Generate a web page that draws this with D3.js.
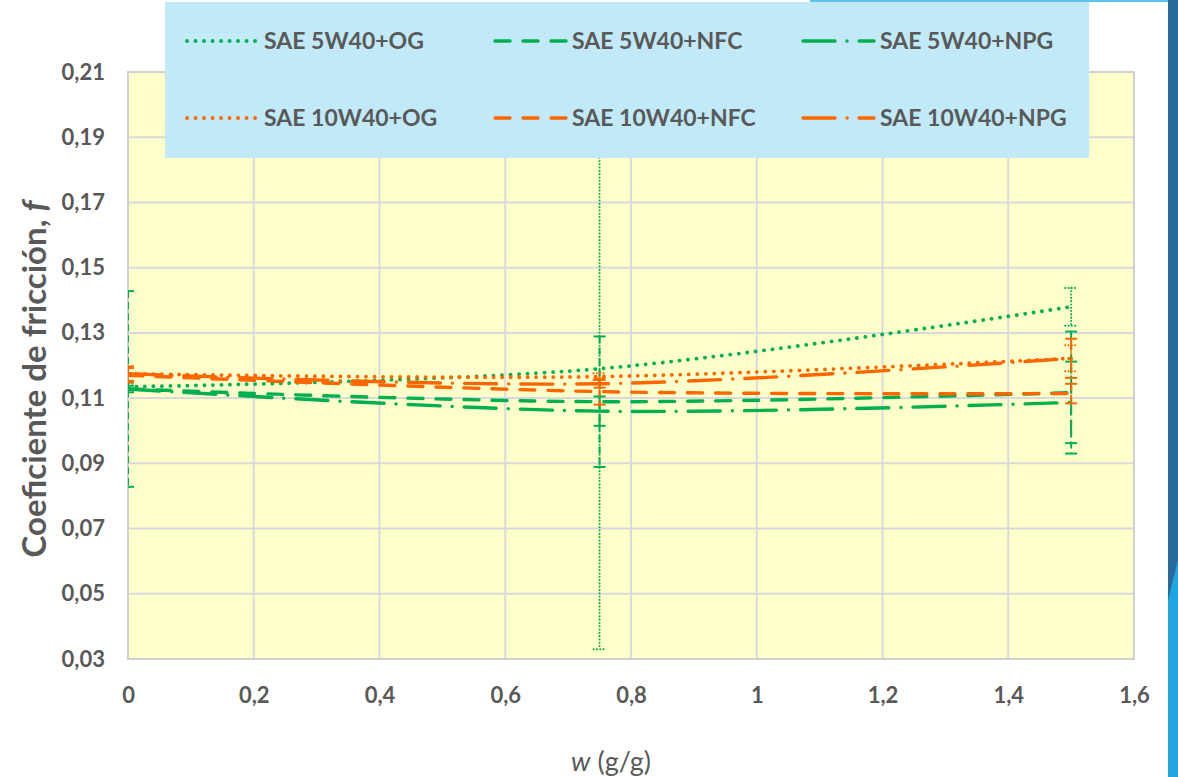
<!DOCTYPE html>
<html>
<head>
<meta charset="utf-8">
<script src="https://cdn.jsdelivr.net/npm/d3@7"></script>
<style>
  html, body { margin: 0; padding: 0; background: #ffffff; }
  svg { display: block; }
  text { font-family: Lato, "Open Sans", sans-serif; }
</style>
</head>
<body>
<svg id="chart" width="1178" height="777"></svg>
<script>
// Mass fraction of additive, w (g/g)
const wValues = [0, 0.75, 1.5];

// Friction coefficient per lubricant blend
const sae5OG   = [0.1135, 0.1190, 0.1380];
const sae5NFC  = [0.1128, 0.1089, 0.1117];
const sae5NPG  = [0.1128, 0.1060, 0.1087];
const sae10OG  = [0.1175, 0.1166, 0.1222];
const sae10NFC = [0.1170, 0.1120, 0.1114];
const sae10NPG = [0.1175, 0.1144, 0.1222];

// Error bar half-widths (±)
const sae5OGErr   = [0.0010, 0.0860, 0.0058];
const sae5NFCErr  = [0.0300, 0.0200, 0.0187];
const sae5NPGErr  = [0.0010, 0.0045, 0.0125];
const sae10OGErr  = [0.0022, 0.0010, 0.0040];
const sae10NFCErr = [0.0022, 0.0040, 0.0030];
const sae10NPGErr = [0.0022, 0.0012, 0.0060];

const seriesNames = ["SAE 5W40+OG", "SAE 5W40+NFC", "SAE 5W40+NPG",
                     "SAE 10W40+OG", "SAE 10W40+NFC", "SAE 10W40+NPG"];

const yTicks = [0.03, 0.05, 0.07, 0.09, 0.11, 0.13, 0.15, 0.17, 0.19, 0.21];
const xTicks = [0, 0.2, 0.4, 0.6, 0.8, 1, 1.2, 1.4, 1.6];

const GREEN = "#00b050", ORANGE = "#ff6600";
const dotted = "0.1 8.4", dashed = "15 13", dashDot = "32 12 0.1 12";
const errDotted = "0.1 3.2", errDashed = "7 4", errDashDot = "12 4 0.1 4";

const series = [
  { name: seriesNames[0], values: sae5OG,   err: sae5OGErr,   color: GREEN,  dash: dotted,  edash: errDotted },
  { name: seriesNames[1], values: sae5NFC,  err: sae5NFCErr,  color: GREEN,  dash: dashed,  edash: errDashed },
  { name: seriesNames[2], values: sae5NPG,  err: sae5NPGErr,  color: GREEN,  dash: dashDot, edash: errDashDot },
  { name: seriesNames[3], values: sae10OG,  err: sae10OGErr,  color: ORANGE, dash: dotted,  edash: errDotted },
  { name: seriesNames[4], values: sae10NFC, err: sae10NFCErr, color: ORANGE, dash: dashed,  edash: errDashed },
  { name: seriesNames[5], values: sae10NPG, err: sae10NPGErr, color: ORANGE, dash: dashDot, edash: errDashDot }
];
const strokeFor = s => s.dash === dotted ? 3.8 : 3.4;

const svg = d3.select("#chart");
const plot = { left: 128, right: 1134, top: 72, bottom: 659 };

const x = d3.scaleLinear().domain([0, 1.6]).range([plot.left, plot.right]);
const y = d3.scaleLinear().domain([0.03, 0.21]).range([plot.bottom, plot.top]);
const fmt = d => d3.format(",")(d).replace(".", ",");

// Decorative side band
svg.append("rect").attr("x", 1168).attr("y", 0).attr("width", 10).attr("height", 777).attr("fill", "#276a9b");
svg.append("path").attr("d", "M1168,600 L1178,560 L1178,777 L1168,777 Z").attr("fill", "#1fa6df");
svg.append("rect").attr("x", 810).attr("y", 0).attr("width", 358).attr("height", 2).attr("fill", "#5cc3ec");

// Plot background
svg.append("rect")
  .attr("x", plot.left).attr("y", plot.top)
  .attr("width", plot.right - plot.left).attr("height", plot.bottom - plot.top)
  .attr("fill", "#ffffcc");

// Gridlines
svg.append("g").selectAll("line").data(yTicks).join("line")
  .attr("x1", plot.left).attr("x2", plot.right)
  .attr("y1", d => y(d)).attr("y2", d => y(d))
  .attr("stroke", "#d9d9d9").attr("stroke-width", 2);
svg.append("g").selectAll("line").data(xTicks).join("line")
  .attr("x1", d => x(d)).attr("x2", d => x(d))
  .attr("y1", plot.top).attr("y2", plot.bottom)
  .attr("stroke", "#d9d9d9").attr("stroke-width", 2);

// Plot border
svg.append("rect")
  .attr("x", plot.left).attr("y", plot.top)
  .attr("width", plot.right - plot.left).attr("height", plot.bottom - plot.top)
  .attr("fill", "none").attr("stroke", "#d0d0d0").attr("stroke-width", 2);

// Axes (labels only; the frame is drawn above)
const yAxis = svg.append("g").attr("transform", `translate(${plot.left},0)`)
  .call(d3.axisLeft(y).tickValues(yTicks).tickFormat(d => d3.format(".2f")(d).replace(".", ",")).tickSize(0).tickPadding(23));
const xAxis = svg.append("g").attr("transform", `translate(0,${plot.bottom})`)
  .call(d3.axisBottom(x).tickValues(xTicks).tickFormat(fmt).tickSize(0).tickPadding(28));
[yAxis, xAxis].forEach(a => {
  a.select(".domain").remove();
  a.selectAll("text").attr("fill", "#595959").attr("font-size", 22).attr("font-weight", 700)
    .style("font-family", "Lato, sans-serif");
});

// Clip for marks
svg.append("clipPath").attr("id", "plotClip").append("rect")
  .attr("x", plot.left).attr("y", plot.top)
  .attr("width", plot.right - plot.left).attr("height", plot.bottom - plot.top);
const marks = svg.append("g").attr("clip-path", "url(#plotClip)");

// Smoothed series lines
const line = d3.line().x((d, i) => x(wValues[i])).y(d => y(d)).curve(d3.curveCatmullRom.alpha(0));
series.forEach(s => {
  marks.append("path")
    .attr("d", line(s.values))
    .attr("fill", "none").attr("stroke", s.color).attr("stroke-width", strokeFor(s))
    .attr("stroke-dasharray", s.dash).attr("stroke-linecap", "round");
});

// Error bars
series.forEach(s => {
  const g = marks.append("g").attr("stroke", s.color).attr("stroke-width", 2).attr("fill", "none");
  s.values.forEach((v, i) => {
    const cx = x(wValues[i]);
    const lo = y(v - s.err[i]), hi = y(v + s.err[i]);
    g.append("line").attr("x1", cx).attr("x2", cx).attr("y1", hi).attr("y2", lo)
      .attr("stroke-dasharray", s.edash).attr("stroke-linecap", s.edash === errDotted ? "round" : "butt");
    [hi, lo].forEach(yy => {
      g.append("line").attr("x1", cx - 6).attr("x2", cx + 6).attr("y1", yy).attr("y2", yy)
        .attr("stroke-dasharray", s.edash === errDotted ? errDotted : null)
        .attr("stroke-linecap", s.edash === errDotted ? "round" : "butt");
    });
  });
});

// Legend
const legend = svg.append("g");
legend.append("rect").attr("x", 165).attr("y", 2).attr("width", 924).attr("height", 156).attr("fill", "#c1e9f8");
const colX = [187, 495, 803], rowY = [41, 118];
series.forEach((s, i) => {
  const cx = colX[i % 3], cy = rowY[Math.floor(i / 3)];
  legend.append("line").attr("x1", cx).attr("x2", cx + 71).attr("y1", cy).attr("y2", cy)
    .attr("stroke", s.color).attr("stroke-width", strokeFor(s))
    .attr("stroke-dasharray", s.dash).attr("stroke-linecap", "round");
  legend.append("text").attr("x", cx + 77).attr("y", cy).attr("dy", "0.36em")
    .attr("fill", "#595959").attr("font-size", 23).attr("font-weight", 700)
    .text(s.name);
});

// Axis titles
svg.append("text")
  .attr("transform", `translate(46,379) rotate(-90)`)
  .attr("text-anchor", "middle").attr("fill", "#595959")
  .attr("font-size", 33).attr("font-weight", 700)
  .call(t => {
    t.append("tspan").text("Coeficiente de fricción, ");
    t.append("tspan").attr("font-style", "italic").text("f");
  });

svg.append("text")
  .attr("x", 611).attr("y", 771)
  .attr("text-anchor", "middle").attr("fill", "#595959")
  .attr("font-size", 27)
  .call(t => {
    t.append("tspan").attr("font-style", "italic").text("w");
    t.append("tspan").text(" (g/g)");
  });
</script>
</body>
</html>
